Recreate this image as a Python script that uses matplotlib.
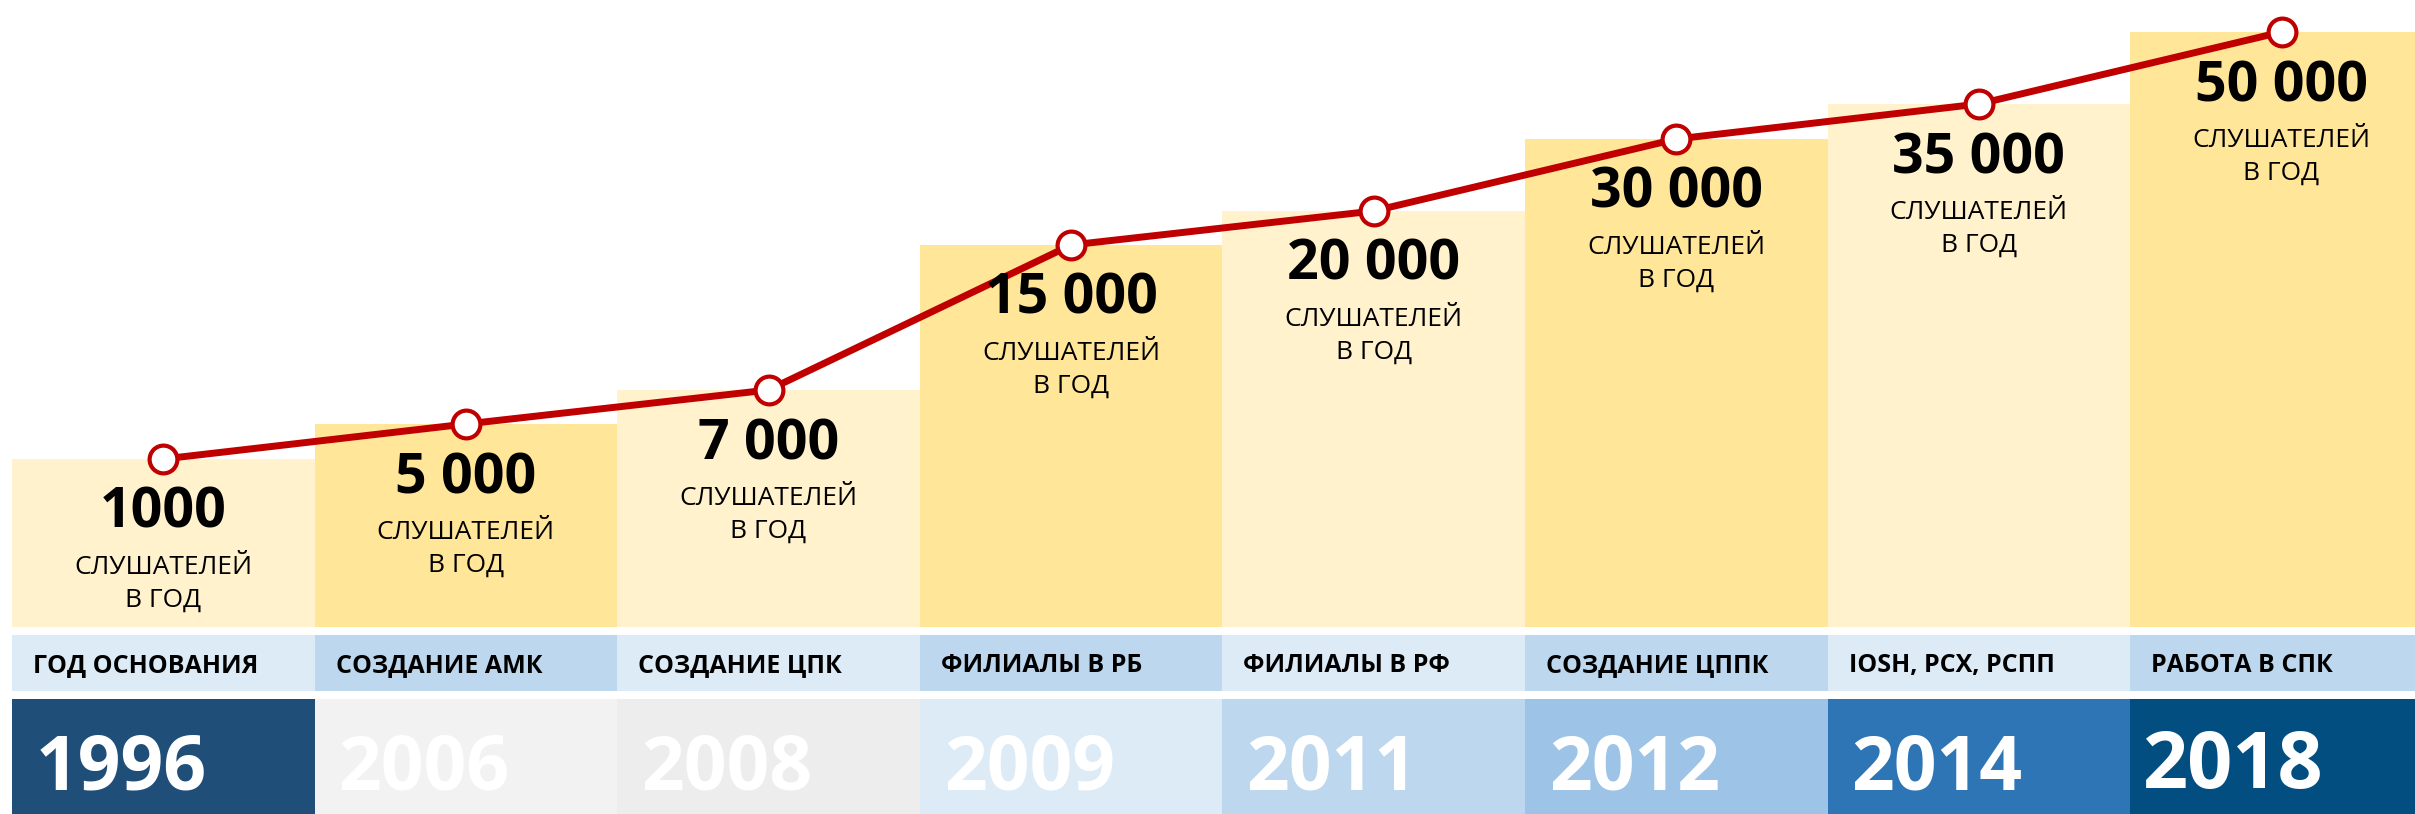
import matplotlib.pyplot as plt

plt.rcParams['font.family'] = ['Open Sans', 'DejaVu Sans']

## Data
years = ['1996', '2006', '2008', '2009', '2011', '2012', '2014', '2018']
events = ['ГОД ОСНОВАНИЯ', 'СОЗДАНИЕ АМК', 'СОЗДАНИЕ ЦПК', 'ФИЛИАЛЫ В РБ',
          'ФИЛИАЛЫ В РФ', 'СОЗДАНИЕ ЦППК', 'IOSH, РСХ, РСПП', 'РАБОТА В СПК']
listeners = ['1000', '5 000', '7 000', '15 000', '20 000', '30 000', '35 000', '50 000']
# visual step heights (the picture is not drawn to scale)
step_heights = [168, 203, 237, 382, 416, 488, 523, 595]

bar_colors = ['#FFF2CC', '#FFE699'] * 4
event_colors = ['#DDEBF7', '#BDD7EE'] * 4
year_colors = ['#1F4E79', '#F2F2F2', '#EDEDED', '#DDEBF7',
               '#BDD7EE', '#9DC3E6', '#2E75B6', '#024E80']

W, H = 2415, 814
col_w = 302.6
x0 = -0.5 - 12 / col_w
x1 = x0 + W / col_w

fig = plt.figure(figsize=(W / 100, H / 100), dpi=100)

# pixel rows: bars end at 627, events band 635-691, years band 699-814
ax_bars = fig.add_axes([0, (H - 627) / H, 1, 627 / H])
ax_ev = fig.add_axes([0, (H - 691) / H, 1, 56 / H])
ax_yr = fig.add_axes([0, 0, 1, 115 / H])

idx = list(range(len(years)))

## Top part: steps, line, labels
ax_bars.bar(idx, step_heights, width=1.0, color=bar_colors, linewidth=0)
ax_bars.plot(idx, step_heights, color='#C00000', lw=5, zorder=3,
             marker='o', markersize=20, markerfacecolor='white',
             markeredgecolor='#C00000', markeredgewidth=3)
ax_bars.set_xlim(x0, x1)
ax_bars.set_ylim(0, 627)

for i, h in enumerate(step_heights):
    ax_bars.annotate(listeners[i], (i, h), xytext=(0, -69), textcoords='offset pixels',
                     ha='center', va='baseline', fontsize=40, fontweight='bold')
    ax_bars.annotate('СЛУШАТЕЛЕЙ', (i, h), xytext=(0, -115), textcoords='offset pixels',
                     ha='center', va='baseline', fontsize=19)
    ax_bars.annotate('В ГОД', (i, h), xytext=(0, -148), textcoords='offset pixels',
                     ha='center', va='baseline', fontsize=19)

## Event band
ax_ev.bar(idx, [1] * len(idx), width=1.0, color=event_colors, linewidth=0)
ax_ev.set_xlim(x0, x1)
ax_ev.set_ylim(0, 1)
for i, ev in enumerate(events):
    ax_ev.annotate(ev, (i - 0.5, 0.34), xytext=(21, 0), textcoords='offset pixels',
                   ha='left', va='baseline', fontsize=18, fontweight='bold')

## Year band
ax_yr.bar(idx, [1] * len(idx), width=1.0, color=year_colors, linewidth=0)
ax_yr.set_xlim(x0, x1)
ax_yr.set_ylim(0, 1)
for i, yr in enumerate(years):
    if i == len(years) - 1:
        ax_yr.annotate(yr, (i - 0.5, 0.226), xytext=(12, 0), textcoords='offset pixels',
                       ha='left', va='baseline', fontsize=57, fontweight='bold', color='white')
    else:
        ax_yr.annotate(yr, (i - 0.5, 0.209), xytext=(24, 0), textcoords='offset pixels',
                       ha='left', va='baseline', fontsize=54, fontweight='bold', color='white')

for ax in (ax_bars, ax_ev, ax_yr):
    ax.axis('off')

fig.savefig('out.png', dpi=100)
